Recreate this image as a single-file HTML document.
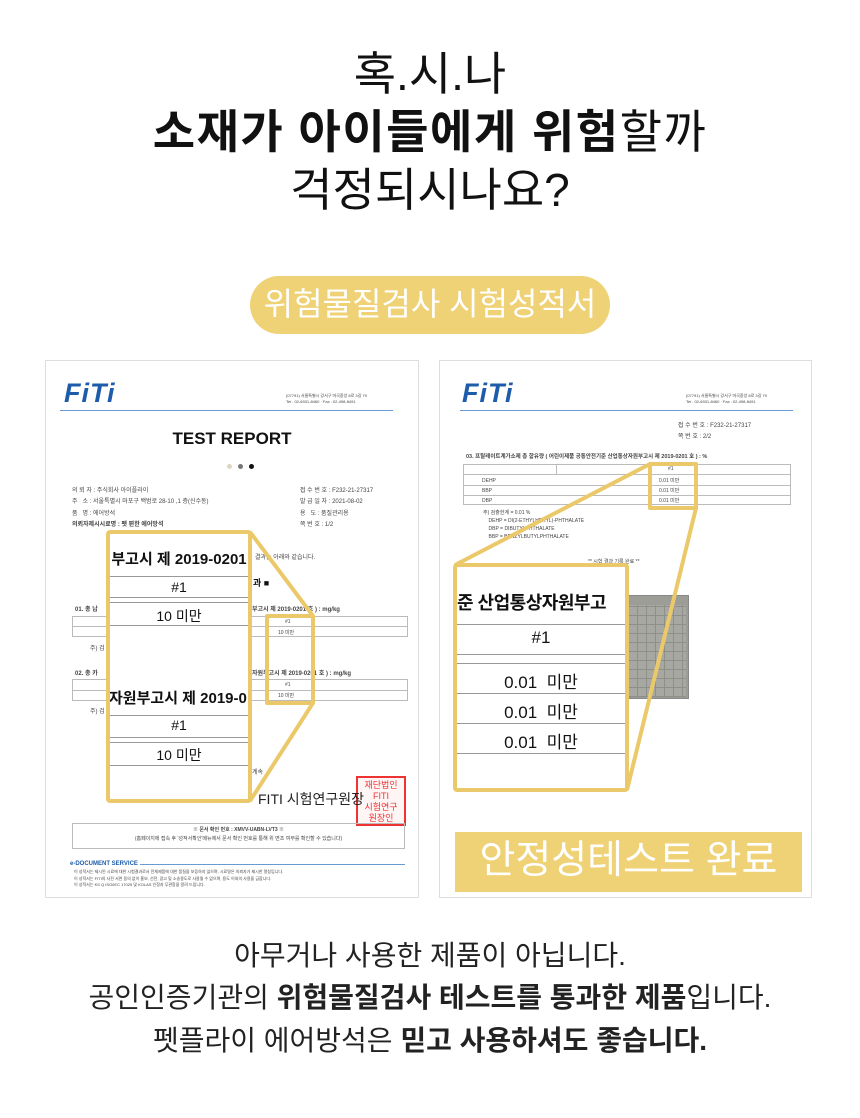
<!DOCTYPE html>
<html><head><meta charset="utf-8"><style>
*{margin:0;padding:0;box-sizing:border-box}
body{width:860px;height:1118px;background:#fff;position:relative;overflow:hidden;font-family:"Liberation Sans","Noto Sans CJK KR",sans-serif;color:#111}
.a{position:absolute;white-space:nowrap}
.c{left:0;width:860px;text-align:center}
.doc{position:absolute;border:1px solid #ddd;background:#fff}
.t{font-size:6px;color:#444}
.logo{font-family:"Liberation Sans",sans-serif;font-weight:bold;font-style:italic;color:#1d5cab;font-size:27px;letter-spacing:1px}
</style></head><body>
<div class="a c" style="top:46px;font-size:46px;line-height:56px">혹.시.나</div>
<div class="a c" style="top:104px;font-size:46px;line-height:56px;letter-spacing:1.5px"><b>소재가 아이들에게 위험</b>할까</div>
<div class="a c" style="top:162px;font-size:46px;line-height:56px">걱정되시나요?</div>
<div class="a" style="left:250px;top:276px;width:360px;height:58px;border-radius:29px;background:#efd176;color:#fff;font-size:32px;line-height:56px;text-align:center">위험물질검사 시험성적서</div>

<!-- left doc -->
<div class="doc" style="left:45px;top:360px;width:374px;height:538px"></div>
<div class="a logo" style="left:64px;top:378px">FiTi</div>
<div class="a t" style="left:286px;top:393px;font-size:4px">(07791) 서울특별시 강서구 마곡중앙 8로 3길 79<br>Tel : 02-6931-8460 · Fax : 02-498-8491</div>
<div class="a" style="left:60px;top:410px;width:333px;height:1px;background:#6a9ad0"></div>
<div class="a" style="left:45px;width:374px;top:429px;text-align:center;font-size:17px;font-weight:bold">TEST REPORT</div>
<div class="a" style="left:227px;top:464px;width:5px;height:5px;border-radius:50%;background:#ddd6c0"></div>
<div class="a" style="left:238px;top:464px;width:5px;height:5px;border-radius:50%;background:#777"></div>
<div class="a" style="left:249px;top:464px;width:5px;height:5px;border-radius:50%;background:#111"></div>
<div class="a t" style="left:72px;top:486px;line-height:11.3px">의 뢰 자 : 주식회사 아이플라이<br>주 &nbsp; 소 : 서울특별시 마포구 백범로 28-10 ,1 층(신수동)<br>품 &nbsp; 명 : 에어방석<br><b>의뢰자제시시료명 : 펫 편한 에어방석</b></div>
<div class="a t" style="left:300px;top:486px;line-height:11.3px">접 수 번 호 : F232-21-27317<br>발 급 일 자 : 2021-08-02<br>용 &nbsp; 도 : 품질관리용<br>쪽 번 호 : 1/2</div>
<div class="a t" style="left:255px;top:552px">결과는 아래와 같습니다.</div>
<div class="a" style="left:253px;top:576px;font-size:9px;font-weight:bold">과 ■</div>
<div class="a t" style="left:75px;top:604px;font-weight:bold">01. 총 납</div>
<div class="a t" style="left:252px;top:604px;font-weight:bold">부고시 제 2019-0201 호 ) : mg/kg</div>
<div class="a" style="left:72px;top:616px;width:336px;height:21px;border:1px solid #bbb"></div>
<div class="a" style="left:72px;top:626px;width:336px;height:1px;background:#bbb"></div>
<div class="a t" style="left:285px;top:619px;font-size:5px">#1</div>
<div class="a t" style="left:278px;top:629px;font-size:5px">10 미만</div>
<div class="a t" style="left:90px;top:643px">주) 검</div>
<div class="a t" style="left:75px;top:668px;font-weight:bold">02. 총 카</div>
<div class="a t" style="left:252px;top:668px;font-weight:bold">자원부고시 제 2019-0201 호 ) : mg/kg</div>
<div class="a" style="left:72px;top:679px;width:336px;height:22px;border:1px solid #bbb"></div>
<div class="a" style="left:72px;top:690px;width:336px;height:1px;background:#bbb"></div>
<div class="a t" style="left:285px;top:682px;font-size:5px">#1</div>
<div class="a t" style="left:278px;top:692px;font-size:5px">10 미만</div>
<div class="a t" style="left:90px;top:706px">주) 검</div>
<div class="a t" style="left:252px;top:767px">계속</div>
<div class="a" style="left:356px;top:776px;width:50px;height:50px;border:2px solid #e33;color:#e33;font-size:9px;line-height:11px;padding-top:2px;text-align:center;background:#fff5f5;overflow:hidden">재단법인<br>FITI<br>시험연구<br>원장인</div>
<div class="a" style="left:258px;top:789px;font-size:14px;color:#222">FITI 시험연구원장</div>
<div class="a" style="left:72px;top:823px;width:333px;height:26px;border:1px solid #bbb"></div>
<div class="a t" style="left:72px;width:333px;top:826px;text-align:center;font-size:5px;line-height:9px"><b>※ 문서 확인 번호 : XMVV-UABN-LVT3 ※</b><br>(홈페이지에 접속 후 '성적서확인'메뉴에서 문서 확인 번호를 통해 위 변조 여부를 확인할 수 있습니다)</div>
<div class="a" style="left:70px;top:861px;font-size:6px;font-weight:bold;color:#1d5cab">e-DOCUMENT SERVICE</div>
<div class="a" style="left:140px;top:864px;width:265px;height:1px;background:#6a9ad0"></div>
<div class="a t" style="left:74px;top:869px;font-size:4px;line-height:6.5px">이 성적서는 제시된 시료에 대한 시험결과로서 전체제품에 대한 품질을 보증하지 않으며, 시료명은 의뢰자가 제시한 명칭입니다.<br>이 성적서는 FITI의 사전 서면 동의 없이 홍보, 선전, 광고 및 소송용도로 사용될 수 없으며, 용도 이외의 사용을 금합니다.<br>이 성적서는 KS Q ISO/IEC 17025 및 KOLAS 인정과 무관함을 알려 드립니다.</div>
<!-- left zoom frame -->
<div class="a" style="left:108px;top:532px;width:142px;height:269px;background:#fff"></div>
<div class="a" style="left:108px;top:548px;width:142px;text-align:center;font-size:15px;font-weight:bold;overflow:hidden">부고시 제 2019-0201</div>
<div class="a" style="left:110px;top:576px;width:138px;height:1px;background:#999"></div>
<div class="a" style="left:108px;top:579px;width:142px;text-align:center;font-size:14px">#1</div>
<div class="a" style="left:110px;top:597px;width:138px;height:1px;background:#999"></div>
<div class="a" style="left:110px;top:602px;width:138px;height:1px;background:#999"></div>
<div class="a" style="left:108px;top:606px;width:142px;text-align:center;font-size:14px">10 미만</div>
<div class="a" style="left:110px;top:625px;width:138px;height:1px;background:#999"></div>
<div class="a" style="left:108px;top:687px;width:142px;overflow:hidden;font-size:15px;font-weight:bold;padding-left:1px">자원부고시 제 2019-0</div>
<div class="a" style="left:110px;top:715px;width:138px;height:1px;background:#999"></div>
<div class="a" style="left:108px;top:717px;width:142px;text-align:center;font-size:14px">#1</div>
<div class="a" style="left:110px;top:737px;width:138px;height:1px;background:#999"></div>
<div class="a" style="left:110px;top:742px;width:138px;height:1px;background:#999"></div>
<div class="a" style="left:108px;top:745px;width:142px;text-align:center;font-size:14px">10 미만</div>
<div class="a" style="left:110px;top:765px;width:138px;height:1px;background:#999"></div>

<!-- right doc -->
<div class="doc" style="left:439px;top:360px;width:373px;height:538px"></div>
<div class="a logo" style="left:462px;top:378px">FiTi</div>
<div class="a t" style="left:686px;top:393px;font-size:4px">(07791) 서울특별시 강서구 마곡중앙 8로 3길 79<br>Tel : 02-6931-8460 · Fax : 02-498-8491</div>
<div class="a" style="left:460px;top:410px;width:333px;height:1px;background:#6a9ad0"></div>
<div class="a t" style="left:678px;top:421px;line-height:11px">접 수 번 호 : F232-21-27317<br>쪽 번 호 : 2/2</div>
<div class="a t" style="left:466px;top:452px;font-weight:bold;font-size:5.5px">03. 프탈레이트계가소제 총 함유량 ( 어린이제품 공통안전기준 산업통상자원부고시 제 2019-0201 호 ) : %</div>
<div class="a" style="left:463px;top:464px;width:328px;height:41px;border:1px solid #bbb"></div>
<div class="a" style="left:463px;top:474px;width:328px;height:1px;background:#bbb"></div>
<div class="a" style="left:463px;top:485px;width:328px;height:1px;background:#bbb"></div>
<div class="a" style="left:463px;top:495px;width:328px;height:1px;background:#bbb"></div>
<div class="a" style="left:556px;top:464px;width:1px;height:11px;background:#bbb"></div>
<div class="a t" style="left:482px;top:476px;font-size:5px;line-height:10px">DEHP<br>BBP<br>DBP</div>
<div class="a t" style="left:668px;top:466px;font-size:5px">#1</div>
<div class="a t" style="left:659px;top:476px;font-size:5px;line-height:10px">0.01 미만<br>0.01 미만<br>0.01 미만</div>
<div class="a t" style="left:483px;top:509px;font-size:5px;line-height:8px">주) 검출한계 = 0.01 %<br>&nbsp;&nbsp;&nbsp;&nbsp;DEHP = DI(2-ETHYLHEXYL)-PHTHALATE<br>&nbsp;&nbsp;&nbsp;&nbsp;DBP = DIBUTYLPHTHALATE<br>&nbsp;&nbsp;&nbsp;&nbsp;BBP = BENZYLBUTYLPHTHALATE</div>
<div class="a t" style="left:588px;top:558px;font-size:5px">** 시험 결과 기록 완료 **</div>
<div class="a" style="left:626px;top:595px;width:63px;height:104px;background:#9d9d98;border:1px solid #888"></div>
<div class="a" style="left:628px;top:605px;width:58px;height:92px;background:repeating-linear-gradient(0deg,#8f8f8a 0 1px,transparent 1px 9px),repeating-linear-gradient(90deg,#8f8f8a 0 1px,#a8a8a2 1px 9px)"></div>
<div class="a" style="left:455px;top:565px;width:172px;height:225px;background:#fff"></div>
<div class="a" style="left:457px;top:589px;width:168px;overflow:hidden;font-size:18px;font-weight:bold;letter-spacing:-0.5px">준 산업통상자원부고</div>
<div class="a" style="left:457px;top:624px;width:168px;height:1px;background:#999"></div>
<div class="a" style="left:455px;top:628px;width:172px;text-align:center;font-size:17px">#1</div>
<div class="a" style="left:457px;top:654px;width:168px;height:1px;background:#999"></div>
<div class="a" style="left:457px;top:663px;width:168px;height:1px;background:#999"></div>
<div class="a" style="left:455px;top:668px;width:172px;text-align:center;font-size:17px;line-height:30px">0.01&nbsp; 미만<br>0.01&nbsp; 미만<br>0.01&nbsp; 미만</div>
<div class="a" style="left:457px;top:693px;width:168px;height:1px;background:#999"></div>
<div class="a" style="left:457px;top:723px;width:168px;height:1px;background:#999"></div>
<div class="a" style="left:457px;top:753px;width:168px;height:1px;background:#999"></div>
<div class="a" style="left:455px;top:832px;width:347px;height:60px;background:#efd176;color:#fff;font-size:39px;line-height:58px;text-align:center">안정성테스트 완료</div>

<svg class="a" style="left:0;top:0" width="860" height="1118">
<g fill="none" stroke="#ebc96a" stroke-width="4" stroke-linejoin="round">
<rect x="108" y="532" width="142" height="269" rx="2"/>
<rect x="267" y="616" width="46" height="87"/>
<line x1="250" y1="532" x2="313" y2="616"/>
<line x1="250" y1="801" x2="313" y2="703"/>
<rect x="455" y="565" width="172" height="225" rx="2"/>
<rect x="650" y="464" width="46" height="44"/>
<line x1="455" y1="565" x2="650" y2="464"/>
<line x1="627" y1="790" x2="696" y2="508"/>
</g></svg>

<div class="a c" style="top:938px;font-size:28px;line-height:36px;color:#222">아무거나 사용한 제품이 아닙니다.</div>
<div class="a c" style="top:980px;font-size:28px;line-height:36px;color:#222">공인인증기관의 <b>위험물질검사 테스트를 통과한 제품</b>입니다.</div>
<div class="a c" style="top:1023px;font-size:28px;line-height:36px;color:#222">펫플라이 에어방석은 <b>믿고 사용하셔도 좋습니다.</b></div>
</body></html>
